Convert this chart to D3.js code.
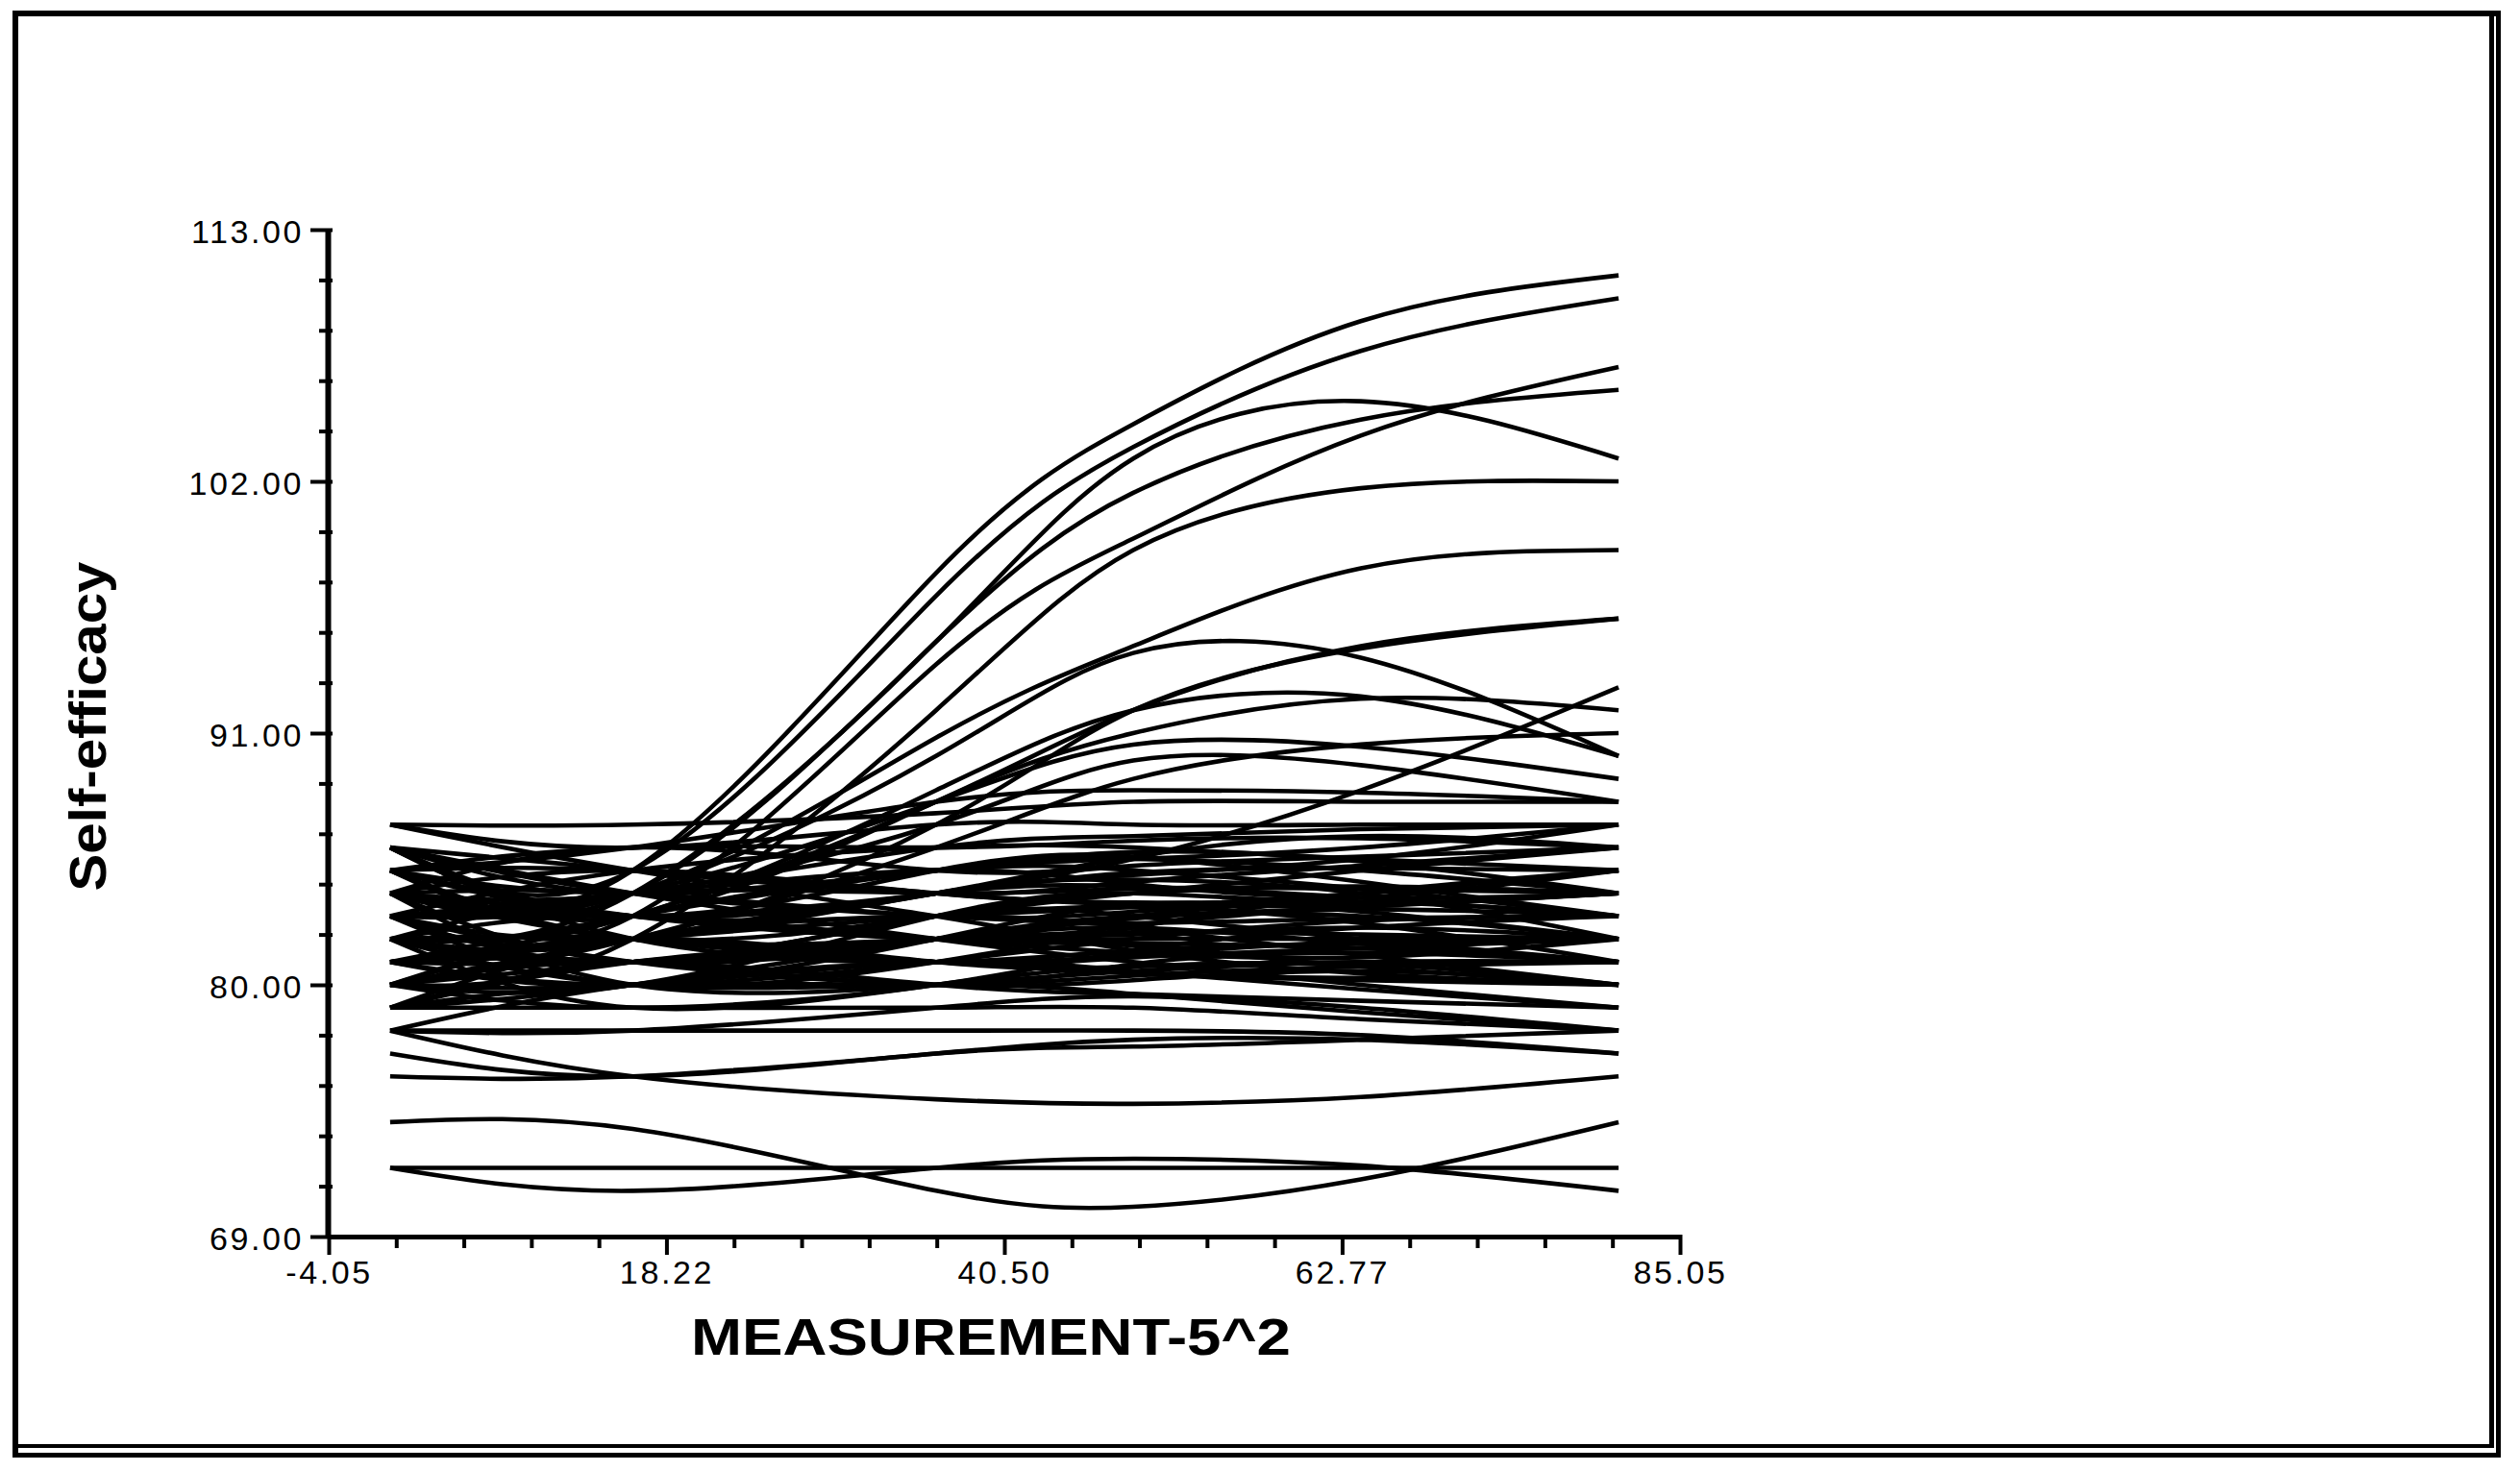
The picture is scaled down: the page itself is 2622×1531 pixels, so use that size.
<!DOCTYPE html>
<html><head><meta charset="utf-8">
<script src="https://cdn.jsdelivr.net/npm/d3@7"></script>
<style>
html,body{margin:0;padding:0;background:#fff;}
svg{display:block;}
</style></head><body>
<svg id="chart" width="2622" height="1531"></svg>
<script>
// Measurement positions (x) at which each subject's self-efficacy is read
const measurementX = [0, 16, 36, 49, 64, 81];

// Subjects that rise steeply to the upper part of the chart
const riserSeries = [
  [84, 85, 98, 104.5, 109, 111],
  [86, 85, 97, 103.5, 107.7, 110],
  [83, 83, 94, 99.5, 104, 107],
  [85, 84, 95, 101.5, 104.7, 106],
  [82, 84, 95, 103, 105.5, 103],
  [80, 82, 92, 99, 101.7, 102],
  [84, 84, 90.8, 94.8, 98.2, 99],
  [81, 83, 88, 92, 94.8, 96],
  [82, 82, 87, 92, 94.7, 96]
];

// Subjects ending in the 88-93 range
const midSeries = [
  [83, 84, 90, 94.5, 94.3, 90],
  [81, 82, 84, 85.5, 88.5, 93],
  [85, 83, 88, 91, 92.5, 92],
  [80, 82, 86, 89, 90.5, 91],
  [82, 83, 88.5, 92, 92.6, 90],
  [83, 84, 88, 90.5, 90.4, 89],
  [87, 87, 87.5, 88, 88, 88],
  [84, 84, 87, 89.8, 89.6, 88],
  [85, 86, 88, 88.5, 88.4, 88]
];

// Subjects staying in the dense central band
const bandSeries = [
  [86, 84, 85, 85.5, 86, 87],
  [86, 83, 84, 84.8, 85.5, 87],
  [85, 86, 86, 86.3, 86.4, 86],
  [85, 82, 83, 84, 85, 86],
  [84, 86, 85, 85.2, 85.6, 86],
  [84, 81, 82, 83, 84, 85],
  [83, 85, 86, 86, 85.5, 85],
  [83, 80, 81, 82.5, 84, 85],
  [82, 84, 84, 84.2, 84.2, 84],
  [82, 81, 83, 84, 84.3, 84],
  [81, 83, 85, 85.5, 85, 84],
  [81, 80, 81, 82, 82.8, 83],
  [80, 82, 84, 84.3, 83.8, 83],
  [80, 79, 80, 81.5, 82.5, 83],
  [79, 81, 82, 82.3, 82.2, 82],
  [79, 80, 82, 83, 83, 82],
  [86, 82, 81, 81.5, 81.8, 82],
  [85, 83, 82, 82, 82, 82],
  [84, 80, 80, 80.6, 81, 81],
  [83, 81, 83, 83, 82, 81],
  [82, 79, 80, 80.8, 81, 81],
  [81, 81, 82, 82.5, 81.8, 81],
  [80, 80, 81, 80.5, 80.3, 80],
  [79, 82, 83, 82.5, 81.3, 80],
  [84, 82, 81, 80.5, 80.2, 80],
  [87, 85, 83, 81.5, 80.5, 80],
  [78, 80, 81, 80.6, 79.8, 79],
  [80, 81, 80, 79.6, 79.3, 79],
  [86, 84, 82, 81, 80, 79],
  [79, 79, 79, 79, 78.5, 78],
  [78, 78, 79, 79.5, 79, 78],
  [82, 80, 80, 79.6, 78.8, 78],
  [87, 86, 87, 87, 87, 87],
  [83, 84, 86, 86.5, 86.8, 87],
  [81, 82, 84, 85.6, 86.5, 86],
  [85, 85, 84, 83.5, 83.5, 84],
  [80, 83, 85, 85, 84.2, 83],
  [84, 83, 82, 81.8, 81.6, 81],
  [86, 85, 84, 84.5, 85.2, 86],
  [85, 84, 85, 85.8, 85.4, 84],
  [84, 85, 84, 83.6, 83.8, 85],
  [83, 82, 84, 84.6, 84, 82],
  [82, 83, 82, 82.6, 83.4, 84],
  [81, 82, 83, 83.4, 82.7, 81],
  [80, 81, 82, 81.7, 80.8, 80],
  [79, 80, 80, 80.4, 80.8, 81],
  [83, 81, 80, 80.2, 80.6, 80],
  [86, 83, 85, 85.6, 84.5, 83],
  [82, 82, 81, 81.2, 81.6, 82],
  [84, 84, 83, 83.2, 83.6, 83],
  [81, 80, 82, 83.5, 83.2, 82],
  [85, 83, 83, 83.4, 84, 85],
  [83, 83, 82, 81.4, 81.2, 82],
  [80, 80, 83, 84, 83.6, 84],
  [86, 84, 83, 82.7, 82.9, 83],
  [82, 81, 82, 82.9, 83.3, 83],
  [84, 83, 84, 84.9, 85.1, 85],
  [79, 81, 81, 81.3, 81.9, 82],
  [81, 81, 80, 80.9, 81.4, 81],
  [85, 82, 82, 82.2, 82.5, 82],
  [83, 84, 85, 84.4, 83.8, 84],
  [80, 82, 81, 80.8, 80.9, 80]
];

// Subjects below the band
const lowSeries = [
  [77, 76, 77, 77.3, 77.6, 78],
  [78, 78, 78, 78, 77.8, 77],
  [78, 76, 75, 74.8, 75.1, 76],
  [76, 76, 77, 77.6, 77.6, 77],
  [74, 73.7, 71, 70.3, 71.5, 74],
  [72, 71, 72, 72.4, 72.1, 71],
  [72, 72, 72, 72, 72, 72]
];

const yMajorTicks = [69, 80, 91, 102, 113];
const yTickLabels = ["69.00", "80.00", "91.00", "102.00", "113.00"];
const xMajorTicks = [-4.05, 18.22, 40.50, 62.77, 85.05];
const xTickLabels = ["-4.05", "18.22", "40.50", "62.77", "85.05"];
const xTitle = "MEASUREMENT-5^2";
const yTitle = "Self-efficacy";

const FONT = "'Liberation Sans', Arial, Helvetica, sans-serif";
const svg = d3.select("#chart");

// Frame (double line at right and bottom)
const frame = svg.append("g").attr("fill", "#000");
frame.append("rect").attr("x", 13).attr("y", 11).attr("width", 2589).attr("height", 6);
frame.append("rect").attr("x", 13).attr("y", 11).attr("width", 6).attr("height", 1506);
frame.append("rect").attr("x", 2590).attr("y", 11).attr("width", 5).attr("height", 1496);
frame.append("rect").attr("x", 2597).attr("y", 11).attr("width", 5).attr("height", 1506);
frame.append("rect").attr("x", 13).attr("y", 1503).attr("width", 2582).attr("height", 4);
frame.append("rect").attr("x", 13).attr("y", 1512).attr("width", 2589).attr("height", 5);

const x = d3.scaleLinear().domain([-4.05, 85.05]).range([342, 1748]);
const y = d3.scaleLinear().domain([69, 113]).range([1287, 239]);

function minorsBetween(majors) {
  const out = [];
  for (let i = 0; i < majors.length - 1; i++) {
    const step = (majors[i + 1] - majors[i]) / 5;
    for (let k = 1; k < 5; k++) out.push(majors[i] + step * k);
  }
  return out;
}

// Curves
const allSeries = [].concat(riserSeries, midSeries, bandSeries, lowSeries);
const line = d3.line()
  .x((d, i) => x(measurementX[i]))
  .y(d => y(d))
  .curve(d3.curveNatural);

svg.append("g")
  .selectAll("path")
  .data(allSeries)
  .join("path")
  .attr("d", line)
  .attr("fill", "none")
  .attr("stroke", "#000")
  .attr("stroke-width", 4.6)
  .attr("stroke-linejoin", "round");

// Y axis minor ticks
const yMinor = svg.append("g").attr("transform", "translate(341,0)")
  .call(d3.axisLeft(y).tickValues(minorsBetween(yMajorTicks)).tickSize(9).tickSizeOuter(0).tickFormat(""));
yMinor.select(".domain").remove();
yMinor.selectAll(".tick line").attr("x1", 5).attr("stroke", "#000").attr("stroke-width", 4);

// Y axis major
const yAxis = svg.append("g").attr("transform", "translate(341,0)")
  .call(d3.axisLeft(y).tickValues(yMajorTicks).tickFormat((d, i) => yTickLabels[i])
    .tickSize(18).tickSizeOuter(0).tickPadding(7));
yAxis.select(".domain").attr("stroke", "#000").attr("stroke-width", 6);
yAxis.selectAll(".tick line").attr("x1", 5).attr("stroke", "#000").attr("stroke-width", 4);
yAxis.selectAll(".tick text")
  .attr("fill", "#000")
  .attr("dy", "0.41em")
  .style("font-family", FONT)
  .style("font-size", "34px")
  .style("letter-spacing", "2.6px");

// X axis minor ticks
const xMinor = svg.append("g").attr("transform", "translate(0,1287)")
  .call(d3.axisBottom(x).tickValues(minorsBetween(xMajorTicks)).tickSize(12).tickSizeOuter(0).tickFormat(""));
xMinor.select(".domain").remove();
xMinor.selectAll(".tick line").attr("y1", -2).attr("stroke", "#000").attr("stroke-width", 4);

// X axis major
const xAxis = svg.append("g").attr("transform", "translate(0,1287)")
  .call(d3.axisBottom(x).tickValues(xMajorTicks).tickFormat((d, i) => xTickLabels[i])
    .tickSize(19).tickSizeOuter(0).tickPadding(6));
xAxis.select(".domain").attr("stroke", "#000").attr("stroke-width", 5);
xAxis.selectAll(".tick line").attr("y1", -2).attr("stroke", "#000").attr("stroke-width", 4);
xAxis.selectAll(".tick text")
  .attr("fill", "#000")
  .style("font-family", FONT)
  .style("font-size", "34px")
  .style("letter-spacing", "2.6px");

// Axis titles
svg.append("text")
  .attr("x", 1031).attr("y", 1410)
  .attr("text-anchor", "middle")
  .attr("textLength", 624).attr("lengthAdjust", "spacingAndGlyphs")
  .style("font-family", FONT).style("font-weight", "bold").style("font-size", "53px")
  .text(xTitle);

svg.append("text")
  .attr("transform", "translate(110,756) rotate(-90)")
  .attr("text-anchor", "middle")
  .attr("textLength", 343).attr("lengthAdjust", "spacingAndGlyphs")
  .style("font-family", FONT).style("font-weight", "bold").style("font-size", "53px")
  .text(yTitle);
</script>
</body></html>
